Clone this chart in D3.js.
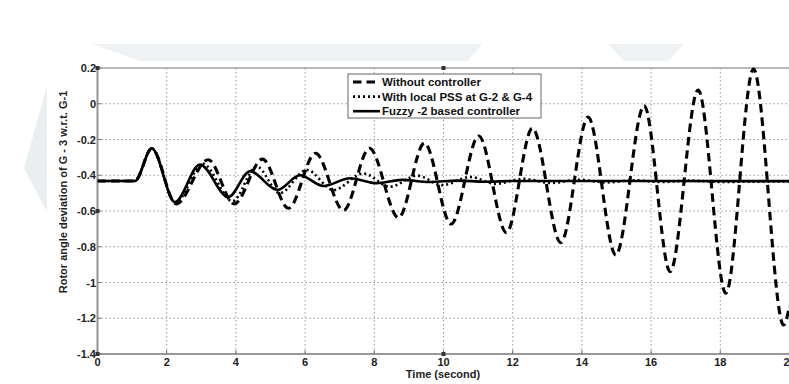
<!DOCTYPE html>
<html lang="en">
<head>
  <meta charset="UTF-8" />
  <title>Rotor angle deviation</title>
  <script src="https://d3js.org/d3.v7.min.js"></script>
  <style>
    body { margin: 0; background: #fff; }
    svg { display: block; font-family: Arial, "Liberation Sans", sans-serif; }
    .tick-label { font-size: 11px; font-weight: bold; fill: #222; }
    .axis-title { font-size: 11px; font-weight: bold; fill: #222; }
    .legend-text { font-size: 11.5px; font-weight: bold; fill: #111; }
    .grid { stroke: #9a9a9a; stroke-width: 1; stroke-dasharray: 1.5,2.5; }
  </style>
</head>
<body>
<svg width="789" height="384"></svg>

<script>
  // tick values
  const xTicks = [0, 2, 4, 6, 8, 10, 12, 14, 16, 18, 20];
  const yTicks = [0.2, 0, -0.2, -0.4, -0.6, -0.8, -1, -1.2, -1.4];

  // Without controller (dashed) : [time, value]
  const withoutCtrl = [
    [0, -0.432], [1.08, -0.432], [1.57, -0.25], [2.27, -0.56], [3.2, -0.313],
    [3.95, -0.56], [4.77, -0.31], [5.52, -0.585], [6.3, -0.277], [7.11, -0.597],
    [7.86, -0.249], [8.7, -0.637], [9.45, -0.22], [10.22, -0.673], [11.02, -0.18],
    [11.82, -0.721], [12.57, -0.137], [13.39, -0.777], [14.18, -0.075], [14.98, -0.846],
    [15.8, -0.011], [16.55, -0.939], [17.36, 0.077], [18.16, -1.06], [18.96, 0.194],
    [19.83, -1.238], [20, -1.13]
  ];

  // With local PSS at G-2 & G-4 (dotted)
  const withPSS = [
    [0, -0.432], [1.08, -0.432], [1.57, -0.25], [2.25, -0.555], [3.04, -0.335],
    [3.9, -0.545], [4.6, -0.352], [5.27, -0.5], [6.05, -0.37], [6.82, -0.483],
    [7.68, -0.39], [8.45, -0.464], [9.24, -0.402], [9.96, -0.455], [10.78, -0.41],
    [11.5, -0.448], [12.3, -0.42], [13.1, -0.443], [13.9, -0.425], [14.7, -0.44],
    [15.5, -0.428], [16.3, -0.438], [17.1, -0.43], [18, -0.437], [20, -0.434]
  ];

  // Fuzzy-2 based controller (solid)
  const fuzzy = [
    [0, -0.432], [1.08, -0.432], [1.57, -0.25], [2.24, -0.55], [2.96, -0.34],
    [3.78, -0.522], [4.41, -0.378], [5.2, -0.482], [5.85, -0.4], [6.53, -0.46],
    [7.3, -0.417], [8.07, -0.445], [8.8, -0.426], [9.6, -0.438], [10.4, -0.43],
    [11.2, -0.436], [12, -0.432], [20, -0.433]
  ];

  const legendLabels = ["Without controller", "With local PSS at G-2 & G-4", "Fuzzy -2 based controller"];

  // little square markers seen on the axes of the scan
  const markers = [[0, 0.2], [0, -0.6], [0, -1.4], [10, 0.2], [10, -1.4]];

  const svg = d3.select("svg");

  const x = d3.scaleLinear().domain([0, 20]).range([97.5, 789.5]);
  const y = d3.scaleLinear().domain([-1.4, 0.2]).range([354, 68]);

  // faint watermark shapes behind the chart
  svg.append("polygon")
    .attr("points", "47,86 24,168 47,212")
    .attr("fill", "#e9eef1");
  svg.append("polygon")
    .attr("points", "92,44 482,44 468,61 140,61")
    .attr("fill", "#eef2f4");
  svg.append("polygon")
    .attr("points", "608,44 684,44 668,61 624,61")
    .attr("fill", "#eef2f4");

  // plot area
  svg.append("rect")
    .attr("x", x(0)).attr("y", y(0.2))
    .attr("width", x(20) - x(0)).attr("height", y(-1.4) - y(0.2))
    .attr("fill", "#fff");

  // grid
  svg.selectAll(".gx")
    .data(xTicks.slice(1, -1))
    .enter().append("line")
    .attr("class", "grid")
    .attr("x1", d => x(d)).attr("x2", d => x(d))
    .attr("y1", y(0.2)).attr("y2", y(-1.4));
  svg.selectAll(".gy")
    .data(yTicks.slice(1, -1))
    .enter().append("line")
    .attr("class", "grid")
    .attr("x1", x(0)).attr("x2", x(20))
    .attr("y1", d => y(d)).attr("y2", d => y(d));

  // frame
  svg.append("rect")
    .attr("x", x(0)).attr("y", y(0.2))
    .attr("width", x(20) - x(0)).attr("height", y(-1.4) - y(0.2))
    .attr("fill", "none").attr("stroke", "#8a8a8a").attr("stroke-width", 1.2);
  svg.append("line")
    .attr("x1", x(0)).attr("x2", x(20)).attr("y1", y(-1.4)).attr("y2", y(-1.4))
    .attr("stroke", "#999").attr("stroke-width", 2);
  svg.append("line")
    .attr("x1", x(0)).attr("x2", x(0)).attr("y1", y(0.2)).attr("y2", y(-1.4))
    .attr("stroke", "#999").attr("stroke-width", 2);

  // inward ticks
  svg.selectAll(".tx")
    .data(xTicks)
    .enter().append("line")
    .attr("x1", d => x(d)).attr("x2", d => x(d))
    .attr("y1", y(-1.4)).attr("y2", y(-1.4) - 4)
    .attr("stroke", "#777");
  svg.selectAll(".ty")
    .data(yTicks)
    .enter().append("line")
    .attr("x1", x(0)).attr("x2", x(0) + 4)
    .attr("y1", d => y(d)).attr("y2", d => y(d))
    .attr("stroke", "#777");

  svg.selectAll(".mk")
    .data(markers)
    .enter().append("rect")
    .attr("x", d => x(d[0]) - 2).attr("y", d => y(d[1]) - 2)
    .attr("width", 4).attr("height", 4)
    .attr("fill", "#333");

  // tick labels
  svg.selectAll(".xl")
    .data(xTicks)
    .enter().append("text")
    .attr("class", "tick-label")
    .attr("x", d => x(d))
    .attr("y", 366)
    .attr("text-anchor", "middle")
    .text(d => d);
  svg.selectAll(".yl")
    .data(yTicks)
    .enter().append("text")
    .attr("class", "tick-label")
    .attr("x", 96)
    .attr("y", d => y(d) + 4)
    .attr("text-anchor", "end")
    .text(d => d);

  // axis titles
  svg.append("text")
    .attr("class", "axis-title")
    .attr("x", 443).attr("y", 378)
    .attr("text-anchor", "middle")
    .text("Time (second)");
  svg.append("text")
    .attr("class", "axis-title")
    .attr("transform", "translate(67,192) rotate(-90)")
    .attr("text-anchor", "middle")
    .text("Rotor angle deviation of G - 3 w.r.t. G-1");

  // curves
  const line = d3.line()
    .x(d => x(d[0]))
    .y(d => y(d[1]))
    .curve(d3.curveMonotoneX);

  svg.append("clipPath").attr("id", "clip")
    .append("rect")
    .attr("x", x(0)).attr("y", y(0.2) - 4)
    .attr("width", x(20) - x(0)).attr("height", y(-1.4) - y(0.2) + 4);

  const plot = svg.append("g").attr("clip-path", "url(#clip)");

  const styles = [
    { data: withoutCtrl, width: 3.1, dash: "8.5,5" },
    { data: withPSS, width: 2.6, dash: "2,3" },
    { data: fuzzy, width: 2.6, dash: null }
  ];

  styles.forEach(s => {
    plot.append("path")
      .datum(s.data)
      .attr("d", line)
      .attr("fill", "none")
      .attr("stroke", "#000")
      .attr("stroke-width", s.width)
      .attr("stroke-dasharray", s.dash);
  });

  // legend
  const legend = svg.append("g");
  legend.append("rect")
    .attr("x", 348).attr("y", 74)
    .attr("width", 193).attr("height", 44)
    .attr("fill", "#fff").attr("stroke", "#666").attr("stroke-width", 1);

  legend.selectAll(".li")
    .data(styles)
    .enter().append("line")
    .attr("x1", 353).attr("x2", 380)
    .attr("y1", (d, i) => 82 + i * 14.6).attr("y2", (d, i) => 82 + i * 14.6)
    .attr("stroke", "#000")
    .attr("stroke-width", d => d.width)
    .attr("stroke-dasharray", d => d.dash);

  legend.selectAll(".lt")
    .data(legendLabels)
    .enter().append("text")
    .attr("class", "legend-text")
    .attr("x", 382)
    .attr("y", (d, i) => 86 + i * 14.6)
    .text(d => d);
</script>

</body>
</html>
